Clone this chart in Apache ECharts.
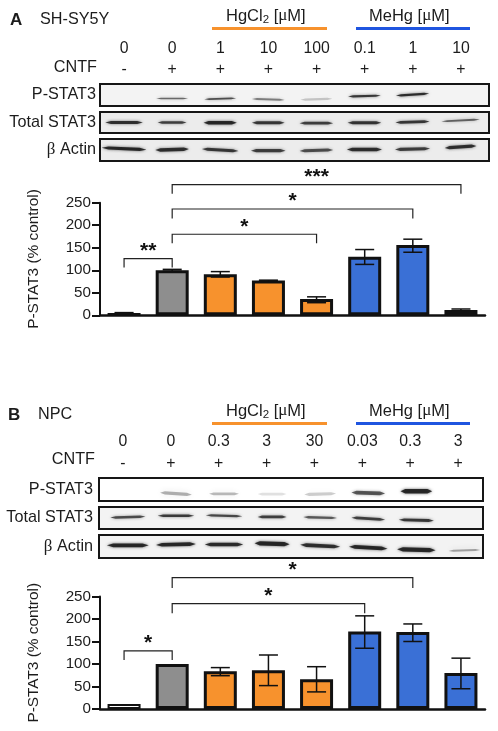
<!DOCTYPE html>
<html><head><meta charset="utf-8">
<style>html,body{margin:0;padding:0;background:#fff}#c{width:498px;height:731px}</style>
<script src="https://cdn.jsdelivr.net/npm/echarts@6/dist/echarts.min.js"></script>
</head><body><div id="c"></div>
<script>
// ---------- data ----------
const laneSigns = ['-','+','+','+','+','+','+','+'];
const concA = ['0','0','1','10','100','0.1','1','10'];
const concB = ['0','0','0.3','3','30','0.03','0.3','3'];
const barLanes = ['a','b','c','d','e','f','g','h'];
const valuesA = [5,100,91,77,36,130,156,12];
const highA   = [6,102,97,78,41,146,169,14];
const lowA    = [4,98,85,76,28,113,140,9];
const valuesB = [11,100,84,86,66,172,171,80];
const highB   = [11,100,92,120,94,207,189,113];
const lowB    = [11,100,74,52,38,135,150,45];
// brackets: from lane, to lane, line value, left leg end, right leg end, stars
const bracketsA = [[1,7,290,270,270,'***'],[1,6,236,215,215,'*'],[1,4,180,160,160,'*'],[0,1,126,106,106,'**']];
const bracketsB = [[1,6,292,269,269,'*'],[1,5,234,213,213,'*'],[0,1,129,109,109,'*']];
// blot bands: lane, height in blot (0-1), darkness (0-1), width in lanes, rise, half thickness
const bandsAP = [[1,.34,.62,.66,0,1],[2,.33,.78,.66,1,1.1],[3,.30,.5,.68,-1,1.3],[4,.31,.14,.66,1,1.4],[5,.45,.92,.68,1,1.4],[6,.52,.98,.69,2,1.4]];
const bandsAT = [[0,.5,.95,.78,0,1.9],[1,.5,.85,.6,0,1.7],[2,.49,1,.69,0,2.2],[3,.49,.9,.68,0,1.8],[4,.47,.85,.7,0,1.8],[5,.49,.92,.7,0,1.9],[6,.52,.9,.71,1,1.7],[7,.6,.65,.8,2,1.2]];
const bandsAA = [[0,.56,1,.93,-2,2],[1,.52,.95,.7,1,2.2],[2,.5,.9,.76,-2,1.9],[3,.47,.85,.72,0,2],[4,.48,.75,.7,1,1.9],[5,.52,.95,.73,0,2.2],[6,.54,.85,.73,1,2],[7,.64,.95,.66,2,2]];
const bandsBP = [[1,.32,.3,.66,-2,2],[2,.31,.25,.62,0,1.8],[3,.3,.04,.6,0,1.6],[4,.3,.14,.66,1,2],[5,.35,.72,.7,-1,2.3],[6,.42,1,.66,0,2.8]];
const bandsBT = [[0,.54,.78,.73,1,1.6],[1,.6,.88,.76,0,1.6],[2,.6,.8,.76,-1,1.4],[3,.55,.85,.6,0,1.6],[4,.52,.7,.7,-1,1.5],[5,.47,.85,.7,-2,1.7],[6,.4,.9,.73,-1,1.8]];
const bandsBA = [[0,.55,1,.87,0,2.3],[1,.59,1,.83,1,2.3],[2,.59,.98,.8,0,2.2],[3,.62,1,.73,-1,2.7],[4,.53,.95,.83,-2,2.3],[5,.45,1,.8,-2,2.4],[6,.36,1,.8,-1,2.6],[7,.33,.35,.66,1,1.2]];

// ---------- style ----------
const FONT = '"Liberation Sans", Arial, sans-serif';
const INK = '#1c1c1c';
const barColors = ['#ffffff','#8e8e8e','#f7922d','#f7922d','#f7922d','#3a70d6','#3a70d6','#3a70d6'];
const greek = {g:{fontFamily:'"Liberation Serif", serif',fontSize:17,color:INK},t:{fontFamily:FONT,fontSize:16.2,color:INK}};

const grid=[], xAxis=[], yAxis=[], series=[];

function addHeader(left, width, top, conc, mTop, mBottom){
  const g = grid.length;
  grid.push({left, width, top, height:2});
  const base = {type:'category', gridIndex:g, axisLine:{show:false}, axisTick:{show:false}};
  const lab = {interval:0, color:INK, fontFamily:FONT, fontSize:15.8};
  xAxis.push(Object.assign({}, base, {position:'top', data:conc, axisLabel:Object.assign({margin:mTop},lab)}));
  xAxis.push(Object.assign({}, base, {position:'bottom', data:laneSigns, axisLabel:Object.assign({margin:mBottom},lab)}));
  yAxis.push({type:'value', gridIndex:g, show:false});
}
function bandItem(params, api){
  const p = api.coord([api.value(0), api.value(1)]);
  const dark = api.value(2), w = api.size([api.value(3),0])[0]/2, rise = api.value(4)/2;
  const h = api.value(5) * 0.8;
  const x = p[0], y = p[1];
  return {type:'polygon', silent:true,
    shape:{points:[[x-w,y+rise],[x-w*0.7,y+rise*0.7-h],[x+w*0.7,y-rise*0.7-h],[x+w,y-rise],[x+w*0.7,y-rise*0.7+h],[x-w*0.7,y+rise*0.7+h]]},
    style:{fill:'rgba(20,20,20,'+(0.1+0.75*dark)+')', shadowBlur:3+(dark<0.5?3:0), shadowColor:'rgba(40,40,40,'+(0.15+0.65*dark)+')'}};
}
function addBlot(left, width, laneMin, top, height, bg, name, rich, gap, bands){
  const g = grid.length;
  grid.push({left, width, top, height, show:true, backgroundColor:bg, borderColor:'#161616', borderWidth:2});
  xAxis.push({type:'value', gridIndex:g, show:false, min:laneMin, max:laneMin+width/48.08});
  yAxis.push({type:'value', gridIndex:g, min:0, max:1, splitLine:{show:false}, axisLine:{show:false}, axisTick:{show:false},
    axisLabel:{show:false}, name, nameLocation:'middle', nameRotate:0, nameGap:gap,
    nameTextStyle:{align:'right', verticalAlign:'middle', color:INK, fontFamily:FONT, fontSize:16.2, rich}});
  series.push({type:'custom', xAxisIndex:xAxis.length-1, yAxisIndex:yAxis.length-1, clip:true, renderItem:bandItem, data:bands, silent:true, animation:false});
}
function addBars(top, height, values, high, low, brackets){
  const g = grid.length;
  grid.push({left:100, width:385, top, height});
  xAxis.push({type:'category', gridIndex:g, data:barLanes, axisTick:{show:false}, axisLabel:{show:false},
    axisLine:{lineStyle:{color:'#111',width:2.5}}});
  yAxis.push({type:'value', gridIndex:g, min:0, max:250, interval:50, splitLine:{show:false},
    axisLine:{show:true, lineStyle:{color:'#111',width:2}}, axisTick:{show:true, length:8, lineStyle:{color:'#111',width:2}},
    axisLabel:{color:INK, fontFamily:FONT, fontSize:15.2, margin:9},
    name:'P-STAT3 (% control)', nameLocation:'middle', nameGap:59, nameTextStyle:{color:INK, fontFamily:FONT, fontSize:15.4}});
  const xi=xAxis.length-1, yi=yAxis.length-1;
  series.push({type:'bar', xAxisIndex:xi, yAxisIndex:yi, barWidth:33, animation:false, silent:true,
    data:values.map((v,i)=>({value:v, itemStyle:{color:barColors[i], borderColor:'#111', borderWidth:i===0?2:3}}))});
  series.push({type:'custom', xAxisIndex:xi, yAxisIndex:yi, animation:false, silent:true, z:5,
    data:values.map((v,i)=>[i,high[i],low[i]]),
    renderItem(params, api){
      if(api.value(1)===api.value(2)) return null;
      const a=api.coord([api.value(0),api.value(1)]), b=api.coord([api.value(0),api.value(2)]), c=9.5;
      const st={stroke:'#111',lineWidth:1.5,fill:null};
      return {type:'group',children:[
        {type:'line',shape:{x1:a[0],y1:a[1],x2:b[0],y2:b[1]},style:st},
        {type:'line',shape:{x1:a[0]-c,y1:a[1],x2:a[0]+c,y2:a[1]},style:st},
        {type:'line',shape:{x1:b[0]-c,y1:b[1],x2:b[0]+c,y2:b[1]},style:st}]};
    }});
  series.push({type:'custom', xAxisIndex:xi, yAxisIndex:yi, animation:false, silent:true, z:6,
    data:brackets.map((b,i)=>[i]),
    renderItem(params, api){
      const b=brackets[params.dataIndex];
      const p1=api.coord([b[0],b[2]]), p2=api.coord([b[1],b[2]]);
      const l=api.coord([b[0],b[3]]), r=api.coord([b[1],b[4]]);
      return {type:'group',children:[
        {type:'polyline',shape:{points:[l,p1,p2,r]},style:{stroke:'#222',lineWidth:1.2,fill:null}},
        {type:'text',x:(p1[0]+p2[0])/2,y:p1[1]-7.5,style:{text:b[5],fill:'#111',font:'bold 21px '+FONT,align:'center',verticalAlign:'middle'}}]};
    }});
}

// Panel A
addHeader(100,385,60,concA,3,0);
addBlot(100,389,-0.5,84,22,'#f3f3f3','P-STAT3',null,4,bandsAP);
addBlot(100,389,-0.5,112,21,'#ececec','Total STAT3',null,4,bandsAT);
addBlot(100,389,-0.5,139,22,'#ececec','{g|β}{t| Actin}',greek,4,bandsAA);
addBars(202.7,112.6,valuesA,highA,lowA,bracketsA);
// Panel B
addHeader(99,383,453,concB,3,1);
addBlot(99,384,-0.6,478,23,'#ffffff','P-STAT3',null,6,bandsBP);
addBlot(99,384,-0.6,507,22,'#f3f3f3','Total STAT3',null,6,bandsBT);
addBlot(99,384,-0.6,535,23,'#f3f3f3','{g|β}{t| Actin}',greek,6,bandsBA);
addBars(596.5,112.5,valuesB,highB,lowB,bracketsB);

function txt(x,y,text,opt){
  return {type:'text',x,y,silent:true,style:Object.assign({text,fill:INK,fontFamily:FONT,fontSize:16.2,align:'left',verticalAlign:'middle'},opt||{})};
}
const hgRich={a:{fontFamily:FONT,fontSize:16.5,fill:INK},s:{fontFamily:FONT,fontSize:11.5,fill:INK,verticalAlign:'bottom',padding:[7,0,0,0]},m:{fontFamily:'"Liberation Serif",serif',fontSize:17,fill:INK}};
function header(dy,letter,lx,cell,cx,cntfX,cntfY){
  return [
    txt(lx,20+dy,letter,{fontWeight:'bold',fontSize:17}),
    txt(cx,20+dy,cell),
    txt(226,16+dy,'{a|HgCl}{s|2}{a| [}{m|μ}{a|M]}',{rich:hgRich}),
    txt(369,16+dy,'{a|MeHg [}{m|μ}{a|M]}',{rich:hgRich}),
    {type:'rect',silent:true,shape:{x:212,y:27+dy,width:115,height:3},style:{fill:'#f7922d'}},
    {type:'rect',silent:true,shape:{x:356,y:27+dy,width:114,height:3},style:{fill:'#1f55e0'}},
    txt(cntfX,cntfY,'CNTF',{align:'right'})
  ];
}
const chart=echarts.init(document.getElementById('c'),null,{renderer:'canvas'});
chart.setOption({animation:false,backgroundColor:'#fff',grid,xAxis,yAxis,series,
  graphic:[].concat(header(0,'A',10,'SH-SY5Y',40,97,68),header(395,'B',8,'NPC',38,95,460))});
</script></body></html>
